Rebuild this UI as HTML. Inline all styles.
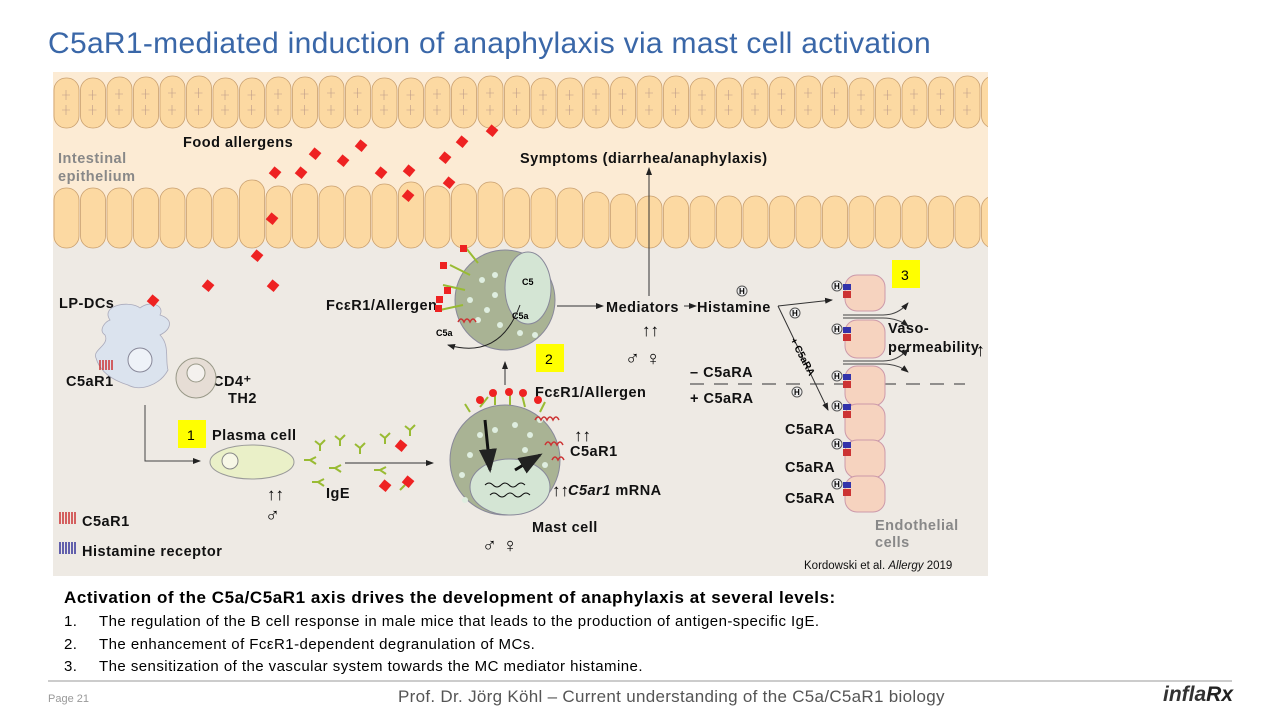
<!DOCTYPE html>
<html><head><meta charset="utf-8"><style>
body{margin:0;width:1280px;height:720px;background:#fff;position:relative;overflow:hidden;font-family:"Liberation Sans",Arial,sans-serif}
.t{position:absolute;white-space:nowrap}
</style></head><body>
<div class="t" style="left:48px;top:27px;font-size:30px;color:#3a67a8;letter-spacing:0.3px">C5aR1-mediated induction of anaphylaxis via mast cell activation</div>
<svg style="position:absolute;left:0;top:0" width="1280" height="720" viewBox="0 0 1280 720" font-family="Liberation Sans, Arial, sans-serif">
<defs><marker id="a" markerWidth="8" markerHeight="8" refX="7" refY="4" orient="auto"><path d="M0,1 L8,4 L0,7z" fill="#222"/></marker>
<clipPath id="cp"><rect x="53" y="72" width="935" height="504"/></clipPath></defs>
<rect x="53" y="72" width="935" height="504" fill="#eeeae4"/>
<rect x="53" y="72" width="935" height="170" fill="#fcebd4"/>
<g id="cells" clip-path="url(#cp)"></g>
<g font-weight="bold" font-size="14.5" fill="#111" letter-spacing="0.5">
<text x="183" y="147">Food allergens</text>
<text x="520" y="163">Symptoms (diarrhea/anaphylaxis)</text>
<text x="58" y="163" fill="#888">Intestinal</text>
<text x="58" y="181" fill="#888">epithelium</text>
<text x="59" y="308">LP-DCs</text>
<text x="66" y="386">C5aR1</text>
<text x="213" y="386">CD4⁺</text>
<text x="228" y="403">TH2</text>
<text x="212" y="440">Plasma cell</text>
<text x="326" y="498">IgE</text>
<text x="326" y="310">FcεR1/Allergen</text>
<text x="535" y="397">FcεR1/Allergen</text>
<text x="570" y="456">C5aR1</text>
<text x="568" y="495"><tspan font-style="italic">C5ar1</tspan> mRNA</text>
<text x="532" y="532">Mast cell</text>
<text x="606" y="312">Mediators</text>
<text x="697" y="312">Histamine</text>
<text x="690" y="377">– C5aRA</text>
<text x="690" y="403">+ C5aRA</text>
<text x="785" y="434">C5aRA</text>
<text x="785" y="472">C5aRA</text>
<text x="785" y="503">C5aRA</text>
<text x="888" y="333">Vaso-</text>
<text x="888" y="352">permeability</text>
<text x="875" y="530" fill="#888">Endothelial</text>
<text x="875" y="547" fill="#888">cells</text>
<text x="82" y="526">C5aR1</text>
<text x="82" y="556">Histamine receptor</text>
</g>
<text x="804" y="569" font-size="11.5" fill="#111">Kordowski et al. <tspan font-style="italic">Allergy</tspan> 2019</text>
<g font-size="14"><rect x="178" y="420" width="28" height="28" fill="#ffff00"/><text x="187" y="440">1</text>
<rect x="536" y="344" width="28" height="28" fill="#ffff00"/><text x="545" y="364">2</text>
<rect x="892" y="260" width="28" height="28" fill="#ffff00"/><text x="901" y="280">3</text></g>
<path d="M110,320 C100,305 130,300 140,308 C150,300 165,305 160,315 C175,320 170,330 160,335 C170,345 165,360 168,370 C160,385 140,392 128,385 C112,380 100,372 96,358 C92,350 110,345 105,335 C98,330 105,322 110,320z" fill="#dbe3ee" stroke="#aab" stroke-width="0.8"/>
<circle cx="140" cy="360" r="12" fill="#eef2f8" stroke="#889"/>
<path d="M100,360 v10 M103,360 v10 M106,360 v10 M109,360 v10 M112,360 v10" stroke="#c33" stroke-width="1.5"/>
<circle cx="196" cy="378" r="20" fill="#e6ddd5" stroke="#998"/><circle cx="196" cy="373" r="9" fill="#f4f1ee" stroke="#998"/>
<polyline points="145,405 145,461 200,461" fill="none" stroke="#444" marker-end="url(#a)"/>
<ellipse cx="252" cy="462" rx="42" ry="17" fill="#eaf0c8" stroke="#999"/><circle cx="230" cy="461" r="8" fill="#f7f7e6" stroke="#888"/>
<text x="267" y="500" font-size="17" font-weight="bold">↑↑</text><text x="265" y="522" font-size="20">♂</text>
<line x1="345" y1="463" x2="433" y2="463" stroke="#333" marker-end="url(#a)"/>
<g stroke="#9b3" stroke-width="2" fill="none">
<path d="M320,445 l5,-5 m-5,5 l-5,-4 m5,4 v6"/><path d="M340,440 l5,-5 m-5,5 l-5,-4 m5,4 v6"/><path d="M360,448 l5,-5 m-5,5 l-5,-4 m5,4 v6"/>
<path d="M310,460 l6,-3 m-6,3 l6,4 m-6,-4 h-6"/><path d="M335,468 l6,-3 m-6,3 l6,4 m-6,-4 h-6"/><path d="M318,482 l6,-3 m-6,3 l6,4 m-6,-4 h-6"/>
<path d="M385,438 l5,-5 m-5,5 l-5,-4 m5,4 v6"/><path d="M410,430 l5,-5 m-5,5 l-5,-4 m5,4 v6"/><path d="M380,470 l6,-3 m-6,3 l6,4 m-6,-4 h-6"/><path d="M400,490 l5,-5"/>
</g>
<circle cx="505" cy="460" r="55" fill="#a9b394" stroke="#889"/>
<ellipse cx="510" cy="487" rx="40" ry="28" fill="#d4e5d4" stroke="#889"/>
<g fill="#dfeee0"><circle cx="480" cy="435" r="3"/><circle cx="495" cy="430" r="3"/><circle cx="515" cy="425" r="3"/><circle cx="530" cy="435" r="3"/><circle cx="470" cy="455" r="3"/><circle cx="462" cy="475" r="3"/><circle cx="525" cy="450" r="3"/><circle cx="540" cy="420" r="3"/><circle cx="465" cy="500" r="3"/><circle cx="545" cy="465" r="3"/></g>
<path d="M485,420 l5,50" stroke="#111" stroke-width="3" marker-end="url(#a)"/>
<path d="M515,470 l25,-15" stroke="#111" stroke-width="3" marker-end="url(#a)"/>
<path d="M485,485 q4,-4 8,0 t8,0 t8,0 t8,0 t8,0 M490,495 q4,-4 8,0 t8,0 t8,0 t8,0 t8,0" stroke="#111" fill="none"/>
<g stroke="#9b3" stroke-width="2"><path d="M480,407 l8,-10 M495,405 v-12 M510,405 v-13 M525,407 l-3,-12 M540,412 l5,-10 M470,412 l-5,-8"/></g>
<g fill="#e22"><circle cx="480" cy="400" r="4"/><circle cx="493" cy="393" r="4"/><circle cx="509" cy="392" r="4"/><circle cx="523" cy="393" r="4"/><circle cx="538" cy="400" r="4"/></g>
<path d="M535,420 q3,-6 6,0 q3,-6 6,0 q3,-6 6,0 q3,-6 6,0 M545,445 q3,-6 6,0 q3,-6 6,0 q3,-6 6,0 M552,460 q3,-6 6,0 q3,-6 6,0" stroke="#c33" fill="none" stroke-width="1.5"/>
<text x="574" y="441" font-size="17" font-weight="bold">↑↑</text><text x="552" y="496" font-size="17" font-weight="bold">↑↑</text>
<text x="482" y="552" font-size="20">♂ ♀</text>
<line x1="505" y1="385" x2="505" y2="362" stroke="#333" marker-end="url(#a)"/>
<circle cx="505" cy="300" r="50" fill="#a9b394" stroke="#889"/>
<ellipse cx="528" cy="288" rx="23" ry="36" fill="#d4e5d4" stroke="#889"/>
<g fill="#dfeee0"><circle cx="482" cy="280" r="3"/><circle cx="495" cy="275" r="3"/><circle cx="470" cy="300" r="3"/><circle cx="487" cy="310" r="3"/><circle cx="500" cy="325" r="3"/><circle cx="520" cy="333" r="3"/><circle cx="535" cy="335" r="3"/><circle cx="478" cy="320" r="3"/><circle cx="495" cy="295" r="3"/></g>
<text x="522" y="285" font-size="9" font-weight="bold">C5</text><text x="512" y="319" font-size="9" font-weight="bold">C5a</text>
<path d="M520,305 Q500,360 448,345" fill="none" stroke="#222" marker-end="url(#a)"/>
<text x="436" y="336" font-size="9" font-weight="bold">C5a</text>
<path d="M458,322 q3,-6 6,0 q3,-6 6,0 q3,-6 6,0" stroke="#c33" fill="none" stroke-width="1.5"/>
<g stroke="#9b3" stroke-width="2"><path d="M470,275 l-20,-10 M465,290 l-22,-5 M463,305 l-23,5 M478,263 l-12,-15"/></g>
<g fill="#e22"><rect x="444" y="287" width="7" height="7"/><rect x="436" y="296" width="7" height="7"/><rect x="440" y="262" width="7" height="7"/><rect x="460" y="245" width="7" height="7"/><rect x="435" y="305" width="7" height="7"/></g>
<line x1="557" y1="306" x2="603" y2="306" stroke="#333" marker-end="url(#a)"/>
<line x1="649" y1="296" x2="649" y2="168" stroke="#333" marker-end="url(#a)"/>
<line x1="684" y1="306" x2="696" y2="306" stroke="#333" marker-end="url(#a)"/>
<text x="642" y="336" font-size="17" font-weight="bold">↑↑</text><text x="625" y="365" font-size="20">♂ ♀</text>
<line x1="778" y1="306" x2="832" y2="300" stroke="#333" marker-end="url(#a)"/>
<line x1="778" y1="306" x2="828" y2="410" stroke="#333" marker-end="url(#a)"/>
<text x="790" y="340" font-size="10" font-weight="bold" transform="rotate(62 790 340)">+ C5aRA</text>
<line x1="690" y1="384" x2="965" y2="384" stroke="#333" stroke-dasharray="14,10"/>
<g font-size="8" font-weight="bold"><circle cx="742" cy="291" r="5" fill="#eee" stroke="#555"/><text x="739" y="294">H</text>
<circle cx="795" cy="313" r="5" fill="#eee" stroke="#555"/><text x="792" y="316">H</text>
<circle cx="797" cy="392" r="5" fill="#eee" stroke="#555"/><text x="794" y="395">H</text></g>
<g fill="#f6d3bf" stroke="#c9a"><rect x="845" y="275" width="40" height="36" rx="12"/><rect x="845" y="320" width="40" height="38" rx="12"/><rect x="845" y="366" width="40" height="40" rx="12"/><rect x="845" y="404" width="40" height="38" rx="12"/><rect x="845" y="440" width="40" height="38" rx="12"/><rect x="845" y="476" width="40" height="36" rx="12"/></g>
<g id="rec" font-size="8" font-weight="bold"></g>
<g stroke="#444" fill="none"><path d="M843,315 h40 q15,0 25,-12" marker-end="url(#a)"/><path d="M843,318 h40 q15,0 25,8" marker-end="url(#a)"/><path d="M843,361 h40 q15,0 25,-12" marker-end="url(#a)"/><path d="M843,364 h40 q15,0 25,8" marker-end="url(#a)"/></g>
<text x="976" y="356" font-size="18" font-weight="bold">↑</text>
<path d="M60,512 v12 M63,512 v12 M66,512 v12 M69,512 v12 M72,512 v12 M75,512 v12" stroke="#c33" stroke-width="1.5"/>
<path d="M60,542 v12 M63,542 v12 M66,542 v12 M69,542 v12 M72,542 v12 M75,542 v12" stroke="#339" stroke-width="1.5"/>
<g fill="#e22" id="al"></g>
<line x1="48" y1="681" x2="1232" y2="681" stroke="#999"/>
</svg>
<div class="t" style="left:64px;top:588px;font-size:17px;font-weight:bold;letter-spacing:0.55px">Activation of the C5a/C5aR1 axis drives the development of anaphylaxis at several levels:</div>
<div class="t" style="left:64px;top:613px;font-size:15px;letter-spacing:0.45px"><span style="display:inline-block;width:35px">1.</span>The regulation of the B cell response in male mice that leads to the production of antigen-specific IgE.</div>
<div class="t" style="left:64px;top:636px;font-size:15px;letter-spacing:0.45px"><span style="display:inline-block;width:35px">2.</span>The enhancement of FcεR1-dependent degranulation of MCs.</div>
<div class="t" style="left:64px;top:658px;font-size:15px;letter-spacing:0.45px"><span style="display:inline-block;width:35px">3.</span>The sensitization of the vascular system towards the MC mediator histamine.</div>
<div class="t" style="left:48px;top:693px;font-size:11px;color:#999">Page 21</div>
<div class="t" style="left:398px;top:687px;font-size:17px;color:#555;letter-spacing:0.3px">Prof. Dr. Jörg Köhl – Current understanding of the C5a/C5aR1 biology</div>
<div class="t" style="left:1163px;top:683px;font-size:21px;font-weight:bold;font-style:italic;color:#333">infla<span style="color:#222">Rx</span></div>
<script>
var g=document.getElementById('cells'),s='';
for(var x=53;x<987;x+=26.5){var h=(Math.round(x)%3);s+='<rect x="'+(x+1)+'" y="'+(76+h)+'" width="25" height="'+(52-h)+'" rx="12" fill="#fcd9a2" stroke="#c9a070" stroke-width="0.8"/><path d="M'+(x+9)+','+(93+h)+' h8 M'+(x+9)+','+(110)+' h8 M'+(x+13)+','+(88+h)+' v10 M'+(x+13)+','+(105)+' v10" stroke="#b98" stroke-width="0.6"/>';}
var tops=[188,188,188,188,188,188,188,180,186,184,186,186,184,182,186,184,182,188,188,188,192,194,196,196,196,196,196,196,196,196,196,196,196,196,196];
var i=0;for(var x=53;x<987;x+=26.5){var t=tops[i++]||196;s+='<rect x="'+(x+1)+'" y="'+t+'" width="25" height="'+(248-t)+'" rx="12" fill="#fcd9a2" stroke="#c9a070" stroke-width="0.8"/>';}
g.innerHTML=s;
var al=[[315,153],[343,160],[361,145],[381,172],[409,170],[445,157],[462,141],[492,130],[301,172],[275,172],[449,182],[408,195],[272,218],[257,255],[208,285],[153,300],[273,285],[401,445],[385,485],[408,481]],a='';
al.forEach(function(p){a+='<rect x="'+(p[0]-4)+'" y="'+(p[1]-4)+'" width="9" height="9" transform="rotate(40 '+p[0]+' '+p[1]+')"/>';});
document.getElementById('al').innerHTML=a;
var r='';[290,333,380,410,448,488].forEach(function(y){r+='<circle cx="837" cy="'+(y-4)+'" r="5" fill="#eee" stroke="#555"/><text x="834" y="'+(y-1)+'">H</text><rect x="843" y="'+(y-6)+'" width="8" height="6" fill="#33a"/><rect x="843" y="'+(y+1)+'" width="8" height="7" fill="#c33"/>';});
document.getElementById('rec').innerHTML=r;
</script>
</body></html>
